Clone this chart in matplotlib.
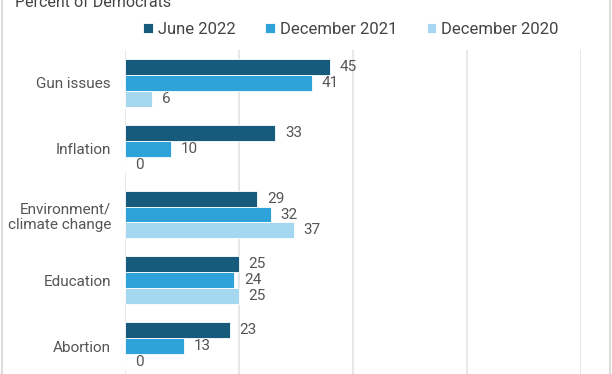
import numpy as np
import matplotlib.pyplot as plt

plt.rcParams['font.family'] = ['Roboto', 'DejaVu Sans']

# Data
categories = ['Gun issues', 'Inflation', 'Environment/\nclimate change', 'Education', 'Abortion']
series_names = ['June 2022', 'December 2021', 'December 2020']
june_2022 = [45, 33, 29, 25, 23]
dec_2021 = [41, 10, 32, 24, 13]
dec_2020 = [6, 0, 37, 25, 0]
colors = ['#175b7c', '#2ea3da', '#a5d7f0']

W, H = 612, 374
fig = plt.figure(figsize=(W / 100, H / 100), dpi=100)
# axes in pixel coords: left 125, right 581, top 50, bottom 374
ax = fig.add_axes([125 / W, 0, (581 - 125) / W, (374 - 50) / H])

y = np.arange(len(categories))
h = 16 / 66
values = [june_2022, dec_2021, dec_2020]
for i, (vals, col, name) in enumerate(zip(values, colors, series_names)):
    pos = y + (i - 1) * h
    ax.barh(pos, vals, height=h, color=col, edgecolor='white', linewidth=0.6, label=name)
    for p, v in zip(pos, vals):
        ax.annotate(str(v), (v, p), xytext=(7, 0), textcoords='offset points',
                    ha='left', va='center', fontsize=11, color='#555555')

ax.set_xlim(0, 100)
ax.set_ylim(4.424, -0.5)
ax.set_xticks([0, 25, 50, 75, 100])
ax.xaxis.grid(True, color='#e3e3e3', linewidth=1.2)
ax.set_axisbelow(True)
ax.tick_params(axis='x', length=0, labelbottom=False)
ax.tick_params(axis='y', length=0, pad=10)
ax.set_yticks(y)
ax.set_yticklabels(categories, fontsize=11, color='#555555', linespacing=1.15)
for s in ax.spines.values():
    s.set_visible(False)

leg = fig.legend(loc='center', bbox_to_anchor=(351 / W, 1 - 29 / H), ncol=3, frameon=False,
                 fontsize=12, handlelength=0.55, handleheight=0.55, handletextpad=0.3,
                 columnspacing=1.8, labelcolor='#444444')

fig.text(15 / W, 1 - 7 / H, 'Percent of Democrats', fontsize=11.5, color='#444444',
         ha='left', va='baseline')

# light frame on the sides
fig.add_artist(plt.Line2D([1.5 / W, 1.5 / W], [0, 1], color='#dddddd', linewidth=1.5))
fig.add_artist(plt.Line2D([1 - 2 / W, 1 - 2 / W], [0, 1], color='#dddddd', linewidth=1.5))

fig.savefig('out.png', dpi=100)
